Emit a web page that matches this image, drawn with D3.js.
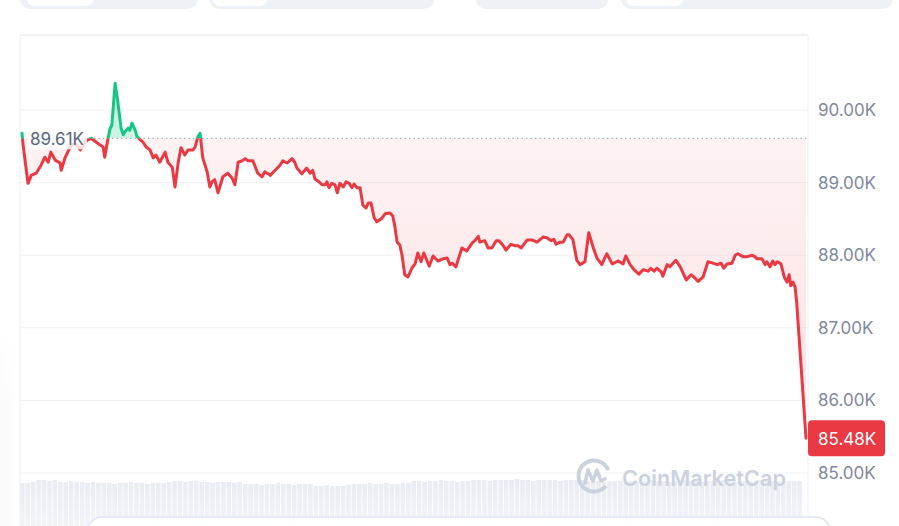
<!DOCTYPE html>
<html>
<head>
<meta charset="utf-8">
<script src="https://cdn.jsdelivr.net/npm/d3@7/dist/d3.min.js"></script>
<style>
  html, body { margin: 0; padding: 0; background: #ffffff; }
  svg { display: block; font-family: Inter, "Noto Sans", Roboto, sans-serif; }
</style>
</head>
<body>
<svg id="chart" width="899" height="526"></svg>
<script>
// ---- DATA ----
// minutes since start of the 24h window
const times = [
  0,2,11,17,26,35,42,48,53,61,
  70,72,79,88,97,107,116,121,127,136,
  143,149,152,158,162,165,171,176,182,186,
  189,195,198,202,208,211,217,222,228,235,
  241,246,253,263,268,276,281,287,292,299,
  305,314,318,323,327,332,340,345,349,354,
  360,369,378,386,391,397,404,410,415,424,
  433,441,446,456,465,474,479,487,496,501,
  505,514,523,529,534,538,544,551,557,560,
  564,569,575,579,584,590,595,601,606,610,
  615,621,626,632,636,641,647,652,661,667,
  676,681,685,689,694,698,703,709,716,722,
  727,733,738,748,755,764,773,781,786,790,
  797,808,817,827,832,838,841,850,856,863,
  871,876,883,889,898,906,911,917,928,937,
  946,957,964,972,977,981,988,994,1001,1005,
  1012,1019,1025,1034,1041,1049,1056,1065,1074,1084,
  1095,1104,1109,1117,1124,1133,1141,1150,1155,1161,
  1166,1174,1177,1185,1190,1201,1209,1220,1229,1234,
  1242,1251,1260,1269,1277,1284,1289,1295,1304,1310,
  1315,1324,1332,1341,1346,1350,1359,1365,1368,1374,
  1379,1383,1387,1394,1400,1405,1409,1412,1416,1420,
  1423,1440
];
// price in thousands USD
const prices = [
  89.68,89.52,88.99,89.10,89.13,89.24,89.35,89.28,89.42,89.31,
  89.27,89.17,89.34,89.48,89.55,89.45,89.56,89.59,89.61,89.56,
  89.52,89.49,89.35,89.61,89.75,89.79,90.37,90.11,89.75,89.66,
  89.70,89.75,89.72,89.82,89.72,89.64,89.59,89.56,89.49,89.45,
  89.34,89.38,89.28,89.42,89.28,89.21,88.94,89.28,89.48,89.38,
  89.45,89.45,89.49,89.63,89.68,89.34,89.15,88.94,89.01,89.04,
  88.86,89.08,89.13,89.06,88.97,89.28,89.30,89.33,89.30,89.30,
  89.13,89.08,89.15,89.10,89.17,89.24,89.30,89.27,89.33,89.28,
  89.20,89.12,89.20,89.13,89.17,89.05,89.02,88.97,88.97,89.01,
  88.93,88.99,88.97,88.86,88.99,88.94,89.01,88.99,88.93,88.98,
  88.93,88.93,88.69,88.65,88.72,88.72,88.51,88.46,88.51,88.57,
  88.58,88.54,88.39,88.18,88.14,88.00,87.73,87.70,87.82,87.88,
  88.03,87.91,88.03,87.85,87.99,87.92,87.95,87.96,87.87,87.89,
  87.84,88.10,88.06,88.17,88.20,88.26,88.18,88.20,88.10,88.10,
  88.20,88.20,88.14,88.07,88.15,88.13,88.13,88.10,88.21,88.21,
  88.18,88.25,88.24,88.20,88.22,88.15,88.18,88.18,88.28,88.28,
  88.21,87.93,87.87,87.91,88.31,88.11,87.96,87.87,88.02,87.88,
  87.92,87.88,87.99,87.87,87.80,87.74,87.80,87.78,87.82,87.78,
  87.82,87.77,87.71,87.87,87.84,87.93,87.84,87.66,87.73,87.70,
  87.64,87.70,87.91,87.89,87.87,87.89,87.82,87.88,87.89,88.00,
  88.02,87.98,87.98,88.00,87.98,87.95,87.95,87.87,87.91,87.84,
  87.92,87.87,87.91,87.88,87.70,87.63,87.73,87.58,87.63,87.56,
  87.34,85.48
];
// volume bars (relative units)
const volumes = [
  43,43,44, 46,46,45,46, 44,44,45,44,44,43,44,
  43,43,43,42,43,43,44,43,43,42,43,43,43,44,
  45,45,44,45,45, 44,44,43,44,44,44,43,44,
  42,42,42,41,42,42,43,42,42,41,42,42,42,
  40,40,41,40,40,40,41,
  42,42,42,43,42,42,43,42,42,43,43,
  45,45,44,45,45,46,45,45,44,45,45,
  46,46,46,45,46,46,46,46,47,46,46,45,46,46,46,46,45,46,46,46,46,
  45,45,45,44,45,45,45,45,45,44,45,
  45,46,45,45,44,45,46,46,45,45,44,45,45,45,46,45,45,44,45,45,45,46,45,45,45,44,45,45,45
];
const baseline = 89.61;
const lastPrice = 85.48;
const yTicks = [85, 86, 87, 88, 89, 90];

// ---- DRAW ----
const svg = d3.select("#chart");
const W = 899, H = 526;
const plotL = 20, plotR = 808, plotT = 35;

const x = d3.scaleLinear().domain([0, 1440]).range([22, 806]);
const y = d3.scaleLinear().domain([85, 90]).range([473, 110]);
const vScale = d3.scaleLinear().domain([0, 50]).range([H, H - 50]);
const vBand = d3.scaleBand().domain(d3.range(volumes.length)).range([20, 802]).paddingInner(0.15);

const data = times.map((t, i) => ({ t, p: prices[i] }));
const baseY = y(baseline);

const defs = svg.append("defs");
const rg = defs.append("linearGradient").attr("id", "redGrad")
  .attr("gradientUnits", "userSpaceOnUse")
  .attr("x1", 0).attr("x2", 0).attr("y1", baseY).attr("y2", y(lastPrice));
rg.append("stop").attr("offset", "0%").attr("stop-color", "#ea3943").attr("stop-opacity", 0.065);
rg.append("stop").attr("offset", "100%").attr("stop-color", "#ea3943").attr("stop-opacity", 0.15);

const vg = defs.append("linearGradient").attr("id", "volGrad")
  .attr("x1", 0).attr("x2", 0).attr("y1", 0).attr("y2", 1);
vg.append("stop").attr("offset", "0%").attr("stop-color", "#e9ecf2");
vg.append("stop").attr("offset", "100%").attr("stop-color", "#f2f4f8");

const sh = defs.append("linearGradient").attr("id", "leftShadow")
  .attr("x1", 0).attr("x2", 1).attr("y1", 0).attr("y2", 0);
sh.append("stop").attr("offset", "0%").attr("stop-color", "#000").attr("stop-opacity", 0.025);
sh.append("stop").attr("offset", "100%").attr("stop-color", "#000").attr("stop-opacity", 0);
const shv = defs.append("linearGradient").attr("id", "leftShadowMask")
  .attr("x1", 0).attr("x2", 0).attr("y1", 0).attr("y2", 1);
shv.append("stop").attr("offset", "0%").attr("stop-color", "#fff").attr("stop-opacity", 0);
shv.append("stop").attr("offset", "40%").attr("stop-color", "#fff").attr("stop-opacity", 1);
defs.append("mask").attr("id", "shMask")
  .append("rect").attr("x", 0).attr("y", 330).attr("width", 16).attr("height", H - 330)
  .attr("fill", "url(#leftShadowMask)");

defs.append("clipPath").attr("id", "clipAbove")
  .append("rect").attr("x", 0).attr("y", 0).attr("width", W).attr("height", baseY);
defs.append("clipPath").attr("id", "clipBelow")
  .append("rect").attr("x", 0).attr("y", baseY).attr("width", W).attr("height", H - baseY);

// left faint shadow
svg.append("rect").attr("x", 0).attr("y", 330).attr("width", 16).attr("height", H - 330)
  .attr("fill", "url(#leftShadow)").attr("mask", "url(#shMask)");

// top pills
const pills = [[20, 198, 27, 94], [209, 434, 213, 267], [476, 608, null, null], [621, 893, 626, 683]];
pills.forEach(([a, b, c, d]) => {
  svg.append("rect").attr("x", a).attr("y", -20).attr("width", b - a).attr("height", 29)
    .attr("rx", 10).attr("fill", "#eef1f5");
  if (c !== null) {
    svg.append("rect").attr("x", c).attr("y", -20).attr("width", d - c).attr("height", 26)
      .attr("rx", 7).attr("fill", "#ffffff");
  }
});

// chart frame
svg.append("line").attr("x1", plotL).attr("x2", plotR).attr("y1", plotT).attr("y2", plotT)
  .attr("stroke", "#e6e8ec").attr("stroke-width", 1.2);
svg.append("line").attr("x1", plotL).attr("x2", plotL).attr("y1", plotT).attr("y2", H)
  .attr("stroke", "#eef0f3").attr("stroke-width", 1);
svg.append("line").attr("x1", plotR).attr("x2", plotR).attr("y1", plotT).attr("y2", H)
  .attr("stroke", "#eef0f3").attr("stroke-width", 1);

// gridlines
svg.append("g").selectAll("line").data(yTicks).join("line")
  .attr("x1", plotL).attr("x2", plotR)
  .attr("y1", d => y(d)).attr("y2", d => y(d))
  .attr("stroke", "#eff1f4").attr("stroke-width", 1);

// volume bars
svg.append("g").selectAll("rect").data(volumes).join("rect")
  .attr("x", (d, i) => vBand(i)).attr("width", vBand.bandwidth())
  .attr("y", d => vScale(d)).attr("height", d => H - vScale(d))
  .attr("fill", "url(#volGrad)");

// areas
const area = d3.area().x(d => x(d.t)).y0(baseY).y1(d => y(d.p));
svg.append("path").datum(data).attr("d", area)
  .attr("clip-path", "url(#clipBelow)").attr("fill", "url(#redGrad)");
svg.append("path").datum(data).attr("d", area)
  .attr("clip-path", "url(#clipAbove)").attr("fill", "#16c784").attr("fill-opacity", 0.22);

// baseline dotted
svg.append("line").attr("x1", 22).attr("x2", plotR).attr("y1", baseY).attr("y2", baseY)
  .attr("stroke", "#a3aab6").attr("stroke-width", 1.3).attr("stroke-dasharray", "1.3,3.2");

// lines
const line = d3.line().x(d => x(d.t)).y(d => y(d.p));
svg.append("path").datum(data).attr("d", line)
  .attr("clip-path", "url(#clipBelow)").attr("fill", "none")
  .attr("stroke", "#ea3943").attr("stroke-width", 3).attr("stroke-linejoin", "round").attr("stroke-linecap", "round");
svg.append("path").datum(data).attr("d", line)
  .attr("clip-path", "url(#clipAbove)").attr("fill", "none")
  .attr("stroke", "#16c784").attr("stroke-width", 3).attr("stroke-linejoin", "round").attr("stroke-linecap", "round");

// baseline label
svg.append("rect").attr("x", 27).attr("y", baseY - 11).attr("width", 60).attr("height", 22)
  .attr("fill", "#ffffff").attr("fill-opacity", 0.82);
svg.append("text").attr("x", 30).attr("y", baseY + 1)
  .attr("dominant-baseline", "central")
  .attr("font-size", 17).attr("fill", "#58667e")
  .text(baseline.toFixed(2) + "K");

// watermark
const wm = svg.append("g").attr("fill", "none").attr("stroke", "#cbd2de");
const cx = 594, cy = 476, r = 15.5;
const arc = d3.arc().innerRadius(r - 2).outerRadius(r + 2).startAngle(Math.PI * 0.72).endAngle(Math.PI * 2.38);
wm.append("path").attr("d", arc()).attr("transform", `translate(${cx},${cy})`)
  .attr("fill", "#cbd2de").attr("stroke", "none");
wm.append("path")
  .attr("d", `M${cx - 9},${cy + 7} L${cx - 6},${cy - 6} L${cx - 1},${cy + 5} L${cx + 3},${cy - 6} L${cx + 7},${cy + 5} L${cx + 11},${cy + 3}`)
  .attr("stroke-width", 3.6).attr("stroke-linejoin", "round").attr("stroke-linecap", "round");
svg.append("text").attr("x", 622).attr("y", 486)
  .attr("font-size", 22).attr("font-weight", 600).attr("fill", "#cbd2de")
  .attr("textLength", 164).attr("lengthAdjust", "spacingAndGlyphs")
  .text("CoinMarketCap");

// y axis labels
const axis = d3.axisRight(y).tickValues(yTicks).tickSize(0).tickPadding(10)
  .tickFormat(d => d.toFixed(2) + "K");
const gAxis = svg.append("g").attr("transform", `translate(${plotR},0)`).call(axis);
gAxis.select(".domain").remove();
gAxis.selectAll("text").attr("font-size", 17).attr("fill", "#7f889b")
  .attr("font-family", "Inter, 'Noto Sans', sans-serif");

// last price tag
const tagY = y(lastPrice);
svg.append("rect").attr("x", plotR).attr("y", tagY - 18).attr("width", 77).attr("height", 36)
  .attr("rx", 4).attr("fill", "#ea3943");
svg.append("text").attr("x", plotR + 10).attr("y", tagY + 1)
  .attr("dominant-baseline", "central").attr("font-size", 17).attr("fill", "#ffffff")
  .text(lastPrice.toFixed(2) + "K");

// bottom panel
svg.append("rect").attr("x", 88).attr("y", 517).attr("width", 742).attr("height", 40)
  .attr("rx", 14).attr("fill", "#ffffff").attr("fill-opacity", 0.92)
  .attr("stroke", "#dfe3f8").attr("stroke-width", 1.5);
</script>
</body>
</html>
